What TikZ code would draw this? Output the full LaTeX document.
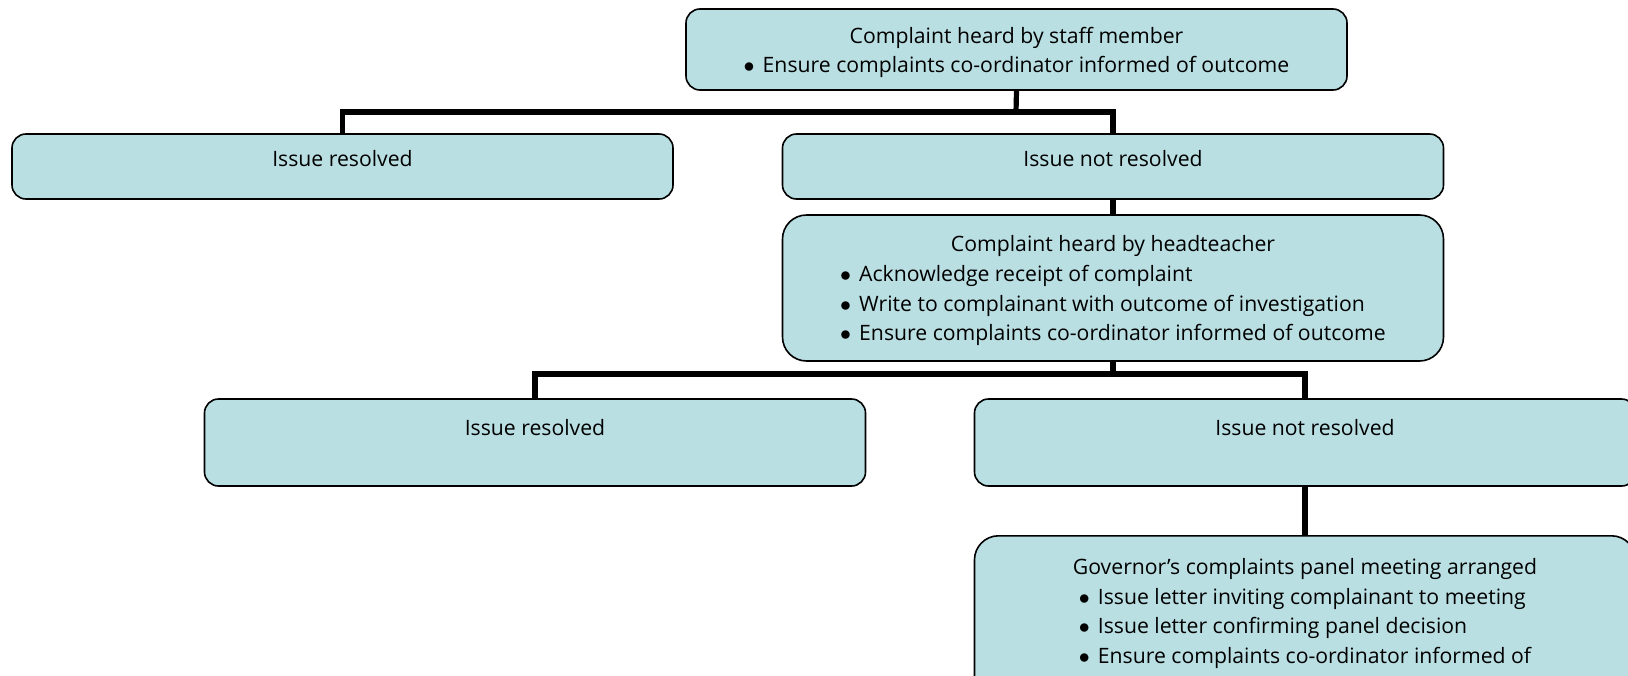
\documentclass[tikz,border=0pt]{standalone}
\usepackage{fontspec}
\setmainfont{Open Sans}
\definecolor{boxfill}{RGB}{185,223,227}
\newcommand{\bul}{\makebox[9.5pt][l]{$\bullet$}}
% text of a box: height, first baseline, lines
\newcommand{\boxtext}[3]{\parbox[c][#1][t]{325pt}{\centering\rule{0pt}{#2}#3}}
\tikzset{
  stepbox/.style={draw=black, line width=0.8pt, fill=boxfill, rounded corners=7pt,
    inner sep=0pt, minimum width=330.5pt},
  bigbox/.style={stepbox, rounded corners=12pt},
  bar/.style={line width=2.6pt, line join=miter, line cap=butt}
}
\begin{document}
\begin{tikzpicture}[x=0.5pt, y=-0.5pt, font=\fontsize{10.6}{14.9}\selectfont]
\useasboundingbox (0,0) rectangle (1628,675);
% first level
\node[stepbox, minimum height=40.5pt] (staff) at (1016.5,49.5)
  {\boxtext{40.5pt}{17pt}{Complaint heard by staff member\\ \bul Ensure complaints co-ordinator informed of outcome}};
\node[stepbox, minimum height=32.5pt] (res1) at (342.5,166.5)
  {\boxtext{32.5pt}{16pt}{Issue resolved}};
\node[stepbox, minimum height=32.5pt] (nres1) at (1113,166.5)
  {\boxtext{32.5pt}{16pt}{Issue not resolved}};
% headteacher
\node[bigbox, minimum height=73pt] (head) at (1113,288)
  {\boxtext{73pt}{18.2pt}{Complaint heard by headteacher\\
   \begin{tabular}[t]{@{}l@{}}\bul Acknowledge receipt of complaint\\
   \bul Write to complainant with outcome of investigation\\
   \bul Ensure complaints co-ordinator informed of outcome\end{tabular}}};
\node[stepbox, minimum height=43.5pt] (res2) at (535,442.5)
  {\boxtext{43.5pt}{18pt}{Issue resolved}};
\node[stepbox, minimum height=43.5pt] (nres2) at (1305,442.5)
  {\boxtext{43.5pt}{18pt}{Issue not resolved}};
% governors
\node[bigbox, minimum height=88pt, anchor=north] (gov) at (1305,535)
  {\boxtext{88pt}{19.2pt}{Governor's complaints panel meeting arranged\\
   \begin{tabular}[t]{@{}l@{}}\bul Issue letter inviting complainant to meeting\\
   \bul Issue letter confirming panel decision\\
   \bul Ensure complaints co-ordinator informed of\end{tabular}}};
% connectors
\coordinate (j1) at (1016,112);
\coordinate (j2) at (1113,374);
\draw[bar] (staff.south) -- (j1);
\draw[bar] (res1.north) |- (j1) -| (nres1.north);
\draw[bar] (nres1.south) -- (head.north);
\draw[bar] (head.south) -- (j2);
\draw[bar] (res2.north) |- (j2) -| (nres2.north);
\draw[bar] (nres2.south) -- (gov.north);
\end{tikzpicture}
\end{document}
